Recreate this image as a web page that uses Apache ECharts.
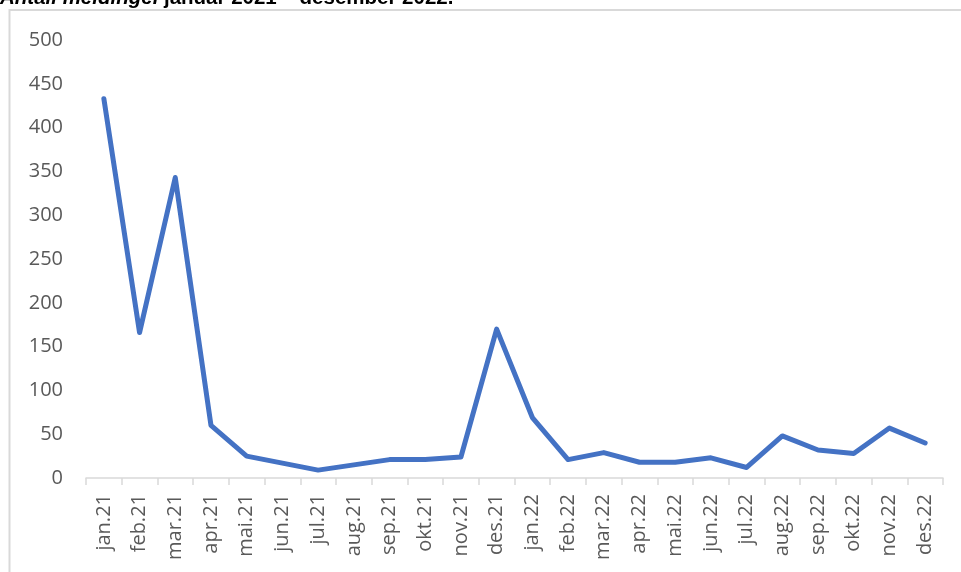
<!DOCTYPE html>
<html>
<head>
<meta charset="utf-8">
<script src="https://cdn.jsdelivr.net/npm/echarts@6/dist/echarts.min.js"></script>
<style>
html,body{margin:0;padding:0;background:#fff;}
#chart{width:961px;height:572px;}
</style>
</head>
<body>
<div id="chart"></div>
<script>
const categories = ["jan.21","feb.21","mar.21","apr.21","mai.21","jun.21","jul.21","aug.21","sep.21","okt.21","nov.21","des.21",
  "jan.22","feb.22","mar.22","apr.22","mai.22","jun.22","jul.22","aug.22","sep.22","okt.22","nov.22","des.22"];
const meldinger = [433,166,343,60,25,17,9,15,21,21,24,170,69,21,29,18,18,23,12,48,32,28,57,40];
const yTicks = {min:0, max:500, interval:50};
const titleBold = "Antall meldinger";
const titleRest = "januar 2021 – desember 2022.";

const chart = echarts.init(document.getElementById('chart'), null, {renderer:'canvas'});
chart.setOption({
  animation:false,
  backgroundColor:'#fff',
  graphic:[
    {type:'rect', shape:{x:9.5,y:10,width:1200,height:1200}, style:{fill:'none', stroke:'#d9d9d9', lineWidth:2}, silent:true},
    {type:'text', x:0, y:9, style:{
      text:'{a|'+titleBold+'} {b|'+titleRest+'}',
      verticalAlign:'bottom',
      rich:{
        a:{fontFamily:'Liberation Sans', fontWeight:'bold', fontStyle:'italic', fontSize:20.5, fill:'#000'},
        b:{fontFamily:'Liberation Sans', fontWeight:'bold', fontSize:20.5, fill:'#000'}
      }
    }}
  ],
  grid:{left:86, right:18, top:40, bottom:94, containLabel:false},
  xAxis:{
    type:'category', data:categories, boundaryGap:true,
    axisLine:{lineStyle:{color:'#d9d9d9', width:1.5}},
    axisTick:{show:true, length:7, lineStyle:{color:'#d9d9d9', width:1.5}},
    axisLabel:{rotate:90, margin:16, color:'#595959', fontFamily:'Open Sans', fontSize:20, interval:0}
  },
  yAxis:{
    type:'value', min:yTicks.min, max:yTicks.max, interval:yTicks.interval,
    axisLine:{show:false}, axisTick:{show:false}, splitLine:{show:false},
    axisLabel:{margin:23, color:'#595959', fontFamily:'Open Sans', fontSize:20}
  },
  series:[{
    type:'line', data:meldinger, symbol:'none',
    lineStyle:{color:'#4472C4', width:5, join:'round', cap:'round'}
  }]
});
</script>
</body>
</html>
